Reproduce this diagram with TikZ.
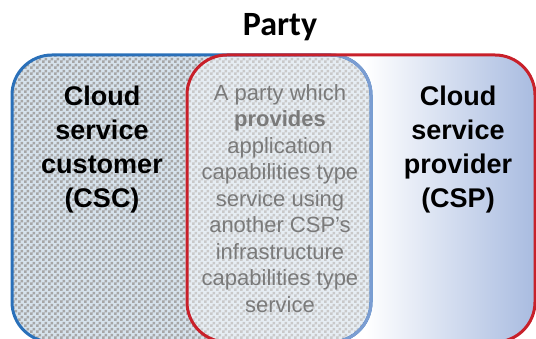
\documentclass[tikz,border=0pt]{standalone}
\usepackage{fontspec}
\setmainfont{Liberation Sans}
\newfontfamily\titlefont{Carlito}
\usepackage{tikz}
\usetikzlibrary{patterns}
\usetikzlibrary{positioning}

\definecolor{csc_line}{HTML}{2A70B9}
\definecolor{shared_line}{HTML}{7B9DD2}
\definecolor{csp_line}{HTML}{C8202A}
\definecolor{csp_fill}{HTML}{A8BBE0}
\definecolor{csc_base}{HTML}{D6E2EC}
\definecolor{csc_check}{HTML}{A6A6A6}
\definecolor{shared_text}{HTML}{7A7A7A}

\pgfdeclarepatternformonly{checker}{\pgfpointorigin}{\pgfqpoint{6pt}{6pt}}{\pgfqpoint{6pt}{6pt}}{
	\pgfpathrectangle{\pgfpointorigin}{\pgfqpoint{3pt}{3pt}}
	\pgfpathrectangle{\pgfqpoint{3pt}{3pt}}{\pgfqpoint{3pt}{3pt}}
	\pgfusepath{fill}}

\tikzset{
	role_label/.style={align=center, inner sep=0pt, anchor=north, font={\fontsize{27}{34}\selectfont\bfseries}},
	shared_label/.style={align=center, inner sep=0pt, anchor=north, text=shared_text, font={\fontsize{22}{26.5}\selectfont}},
	box_line/.style={line width=3pt, rounded corners=40pt}
}

\def\cscbox{(12,55) rectangle (371,342)}
\def\cspbox{(187,55) rectangle (535,342)}

\begin{document}
\begin{tikzpicture}[x=1pt, y=-1pt]

	\useasboundingbox (0,0) rectangle (536,339);

	% provider box, white to blue
	\begin{scope}
	\clip[rounded corners=40pt] \cspbox;
	\shade[left color=white, right color=csp_fill] (365,50) rectangle (536,345);
	\end{scope}

	% customer box, checkered
	\fill[rounded corners=40pt, csc_base] \cscbox;
	\fill[rounded corners=40pt, pattern=checker, pattern color=csc_check] \cscbox;

	% lighter where both meet
	\begin{scope}
	\clip[rounded corners=40pt] \cspbox;
	\fill[rounded corners=40pt, white, opacity=0.4] \cscbox;
	\end{scope}

	\draw[box_line, csc_line] \cscbox;

	\begin{scope}
	\clip[rounded corners=40pt] \cspbox;
	\draw[box_line, shared_line] \cscbox;
	\end{scope}

	\draw[box_line, csp_line] \cspbox;

	
	\node (party_title) at (280,13) [anchor=north, inner sep=0pt, font={\titlefont\fontsize{34}{40}\selectfont\bfseries}] {Party};

	\node (csc_text) at (102,86) [role_label] {Cloud\\service\\customer\\(CSC)};

	\node (csp_text) at (458,86) [role_label] {Cloud\\service\\provider\\(CSP)};

	\node (shared_text) at (280,84) [shared_label] {A party which\\\textbf{provides}\\application\\capabilities type\\service using\\another CSP's\\infrastructure\\capabilities type\\service};

\end{tikzpicture}
\end{document}
